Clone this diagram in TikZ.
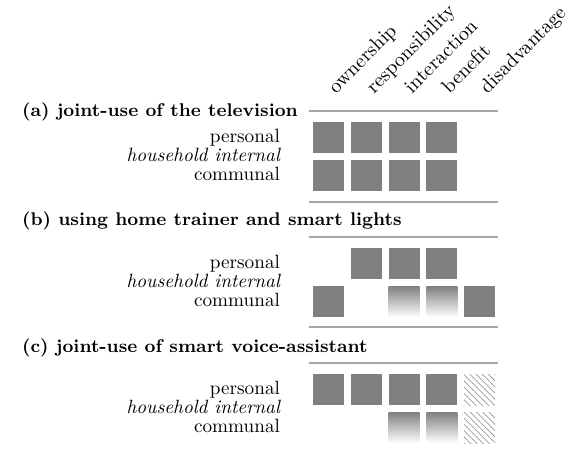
\documentclass[tikz,border=0pt]{standalone}
\usetikzlibrary{patterns.meta}

\begin{document}
\begin{tikzpicture}[x=0.5pt, y=-0.5pt,
	cell/.style={minimum size=15.5pt, inner sep=0pt, fill=black!50},
	fadecell/.style={minimum size=15.5pt, inner sep=0pt, top color=black!50, bottom color=white},
	hatchcell/.style={minimum size=15.5pt, inner sep=0pt, pattern={Lines[angle=-45, distance=2.2pt, line width=0.35pt]}, pattern color=black!40},
	rule/.style={black!35, line width=0.7pt},
	title/.style={anchor=base west, font=\fontsize{9.2}{11}\selectfont\bfseries},
	role/.style={anchor=base east, font=\fontsize{9.6}{11}\selectfont},
	aspect/.style={anchor=base west, rotate=45, font=\fontsize{10}{12}\selectfont}]
	\useasboundingbox (0,0) rectangle (576,452);

	% column heads
	\node[aspect] (own) at (331,99) {ownership};
	\node[aspect] (resp) at (369,99) {responsibility};
	\node[aspect] (inter) at (407,99) {interaction};
	\node[aspect] (ben) at (444.5,99) {benefit};
	\node[aspect] (dis) at (482.5,99) {disadvantage};

	% (a)
	\node[title] (ta) at (15,116) {(a) joint-use of the television};
	\draw[rule] (309,111) -- (498,111);
	\node[role] (a-per) at (287,142.5) {personal};
	\node[role] (a-hh) at (287,161.5) {\itshape household internal};
	\node[role] (a-com) at (287,180.5) {communal};
	\node[cell] (a11) at (328.5,137.5) {};
	\node[cell] (a12) at (366.25,137.5) {};
	\node[cell] (a13) at (404,137.5) {};
	\node[cell] (a14) at (441.75,137.5) {};
	\node[cell] (a21) at (328.5,175.5) {};
	\node[cell] (a22) at (366.25,175.5) {};
	\node[cell] (a23) at (404,175.5) {};
	\node[cell] (a24) at (441.75,175.5) {};

	% (b)
	\draw[rule] (309,202) -- (498,202);
	\node[title] (tb) at (15,225) {(b) using home trainer and smart lights};
	\draw[rule] (309,237) -- (498,237);
	\node[role] (b-per) at (287,268.5) {personal};
	\node[role] (b-hh) at (287,287.5) {\itshape household internal};
	\node[role] (b-com) at (287,306.5) {communal};
	\node[cell] (b12) at (366.25,263.5) {};
	\node[cell] (b13) at (404,263.5) {};
	\node[cell] (b14) at (441.75,263.5) {};
	\node[cell] (b21) at (328.5,301.5) {};
	\node[fadecell] (b23) at (404,301.5) {};
	\node[fadecell] (b24) at (441.75,301.5) {};
	\node[cell] (b25) at (479.5,301.5) {};

	% (c)
	\draw[rule] (309,327) -- (498,327);
	\node[title] (tc) at (15,352) {(c) joint-use of smart voice-assistant};
	\draw[rule] (309,363) -- (498,363);
	\node[role] (c-per) at (287,394.5) {personal};
	\node[role] (c-hh) at (287,413.5) {\itshape household internal};
	\node[role] (c-com) at (287,432.5) {communal};
	\node[cell] (c11) at (328.5,389.5) {};
	\node[cell] (c12) at (366.25,389.5) {};
	\node[cell] (c13) at (404,389.5) {};
	\node[cell] (c14) at (441.75,389.5) {};
	\node[hatchcell] (c15) at (479.5,389.5) {};
	\node[fadecell] (c23) at (404,427.5) {};
	\node[fadecell] (c24) at (441.75,427.5) {};
	\node[hatchcell] (c25) at (479.5,427.5) {};
\end{tikzpicture}
\end{document}
